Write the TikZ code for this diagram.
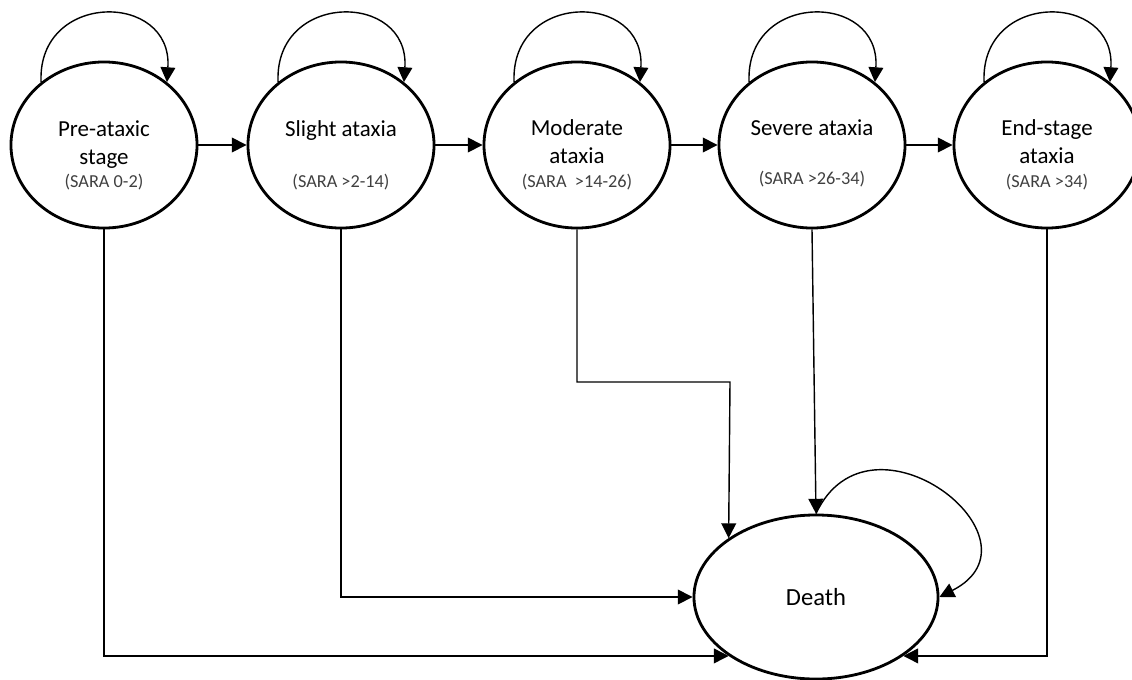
\documentclass[tikz,border=0pt]{standalone}
\usepackage{fontspec}
\setmainfont{Carlito}
\usetikzlibrary{arrows.meta,shapes.geometric,positioning}
\tikzset{
	stage/.style={ellipse,draw,line width=2pt,minimum width=4.65cm,minimum height=4.15cm,inner sep=0pt},
	stagename/.style={anchor=base,align=center,font=\fontsize{16.3}{19.9}\selectfont},
	saratext/.style={anchor=base,font=\fontsize{13}{15}\selectfont,text=black!75},
	trans/.style={line width=1pt,-{Triangle[length=10.5pt,width=10.5pt]}}
}
\newcommand{\stagept}[6]{%
	\node[stage] at (#1,145) (#2) {};
	\node[stagename] at (#1,#4) (#2-name) {#3};
	\node[saratext] at (#1,#6) (#2-sara) {#5};
}

\begin{document}
\begin{tikzpicture}[x=0.025cm,y=-0.025cm]
					\useasboundingbox (0,0) rectangle (1132,679);
					
					\stagept{104}{pre}{Pre-ataxic\\stage}{164}{(SARA 0-2)}{187}
					\stagept{341}{slight}{Slight ataxia}{136}{(SARA >2-14)}{187}
					\stagept{577}{moderate}{Moderate\\ataxia}{163}{(SARA~ >14-26)}{187}
					\stagept{812}{severe}{Severe ataxia}{135}{(SARA >26-34)}{184}
					\stagept{1047}{endstage}{End-stage\\ataxia}{163}{(SARA >34)}{187}
					
					\node[stage,minimum width=6.1cm,minimum height=4.1cm] at (816,597) (death) {};
					\node[anchor=base,font=\fontsize{17.5}{20}\selectfont] at (816,605) (death-name) {Death};
					
					\draw [trans](pre.east) -- (slight.west);
					\draw [trans](slight.east) -- (moderate.west);
					\draw [trans](moderate.east) -- (severe.west);
					\draw [trans](severe.east) -- (endstage.west);
					
					\draw [trans](pre.135) .. controls +(-4,-91) and +(6,-91) .. (pre.45);
					\draw [trans](slight.135) .. controls +(-4,-91) and +(6,-91) .. (slight.45);
					\draw [trans](moderate.135) .. controls +(-4,-91) and +(6,-91) .. (moderate.45);
					\draw [trans](severe.135) .. controls +(-4,-91) and +(6,-91) .. (severe.45);
					\draw [trans](endstage.135) .. controls +(-4,-91) and +(6,-91) .. (endstage.45);
					\draw [trans](death.north) .. controls +(54,-115) and +(112,-57) .. (death.east);
					
					\coordinate (modbend) at (730,382);
					\draw [trans](pre.south) |- (death.214);
					\draw [trans](slight.south) |- (death.west);
					\draw [trans](moderate.south) |- (modbend) -- (death.146);
					\draw [trans](severe.south) -- (death.north);
					\draw [trans](endstage.south) |- (death.326);
				\end{tikzpicture}
\end{document}
